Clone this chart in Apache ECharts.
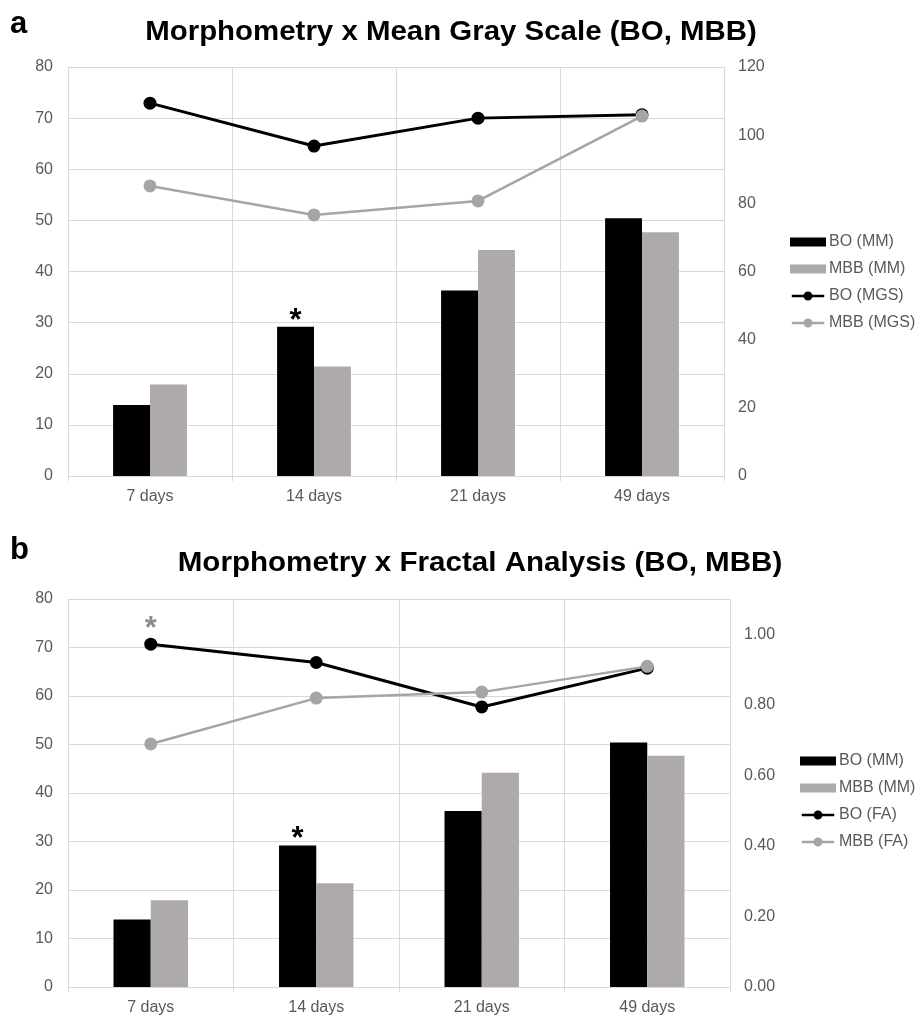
<!DOCTYPE html>
<html>
<head>
<meta charset="utf-8">
<script src="https://cdn.jsdelivr.net/npm/echarts@6/dist/echarts.min.js"></script>
<style>
  html, body { margin: 0; padding: 0; background: #fff; }
  #chartA { width: 918px; height: 510px; }
  #chartB { width: 918px; height: 506px; }
</style>
</head>
<body>
<div id="chartA"></div>
<div id="chartB"></div>
<script>
// Time points
const categories = ['7 days', '14 days', '21 days', '49 days'];

// Morphometry (MM), left axis
const boMM  = [13.9, 29.2, 36.3, 50.4];
const mbbMM = [17.9, 21.4, 44.2, 47.7];

// Mean gray scale (MGS), right axis of panel a
const boMGS  = [109.4, 96.8, 105.0, 106.0];
const mbbMGS = [85.1, 76.6, 80.7, 105.6];

// Fractal analysis (FA), right axis of panel b
const boFA  = [0.972, 0.920, 0.794, 0.904];
const mbbFA = [0.689, 0.819, 0.836, 0.909];

// Significance markers (index of the time point)
const boMMStar = [1];
const boFAStar = [0];

const FONT = 'Liberation Sans, Arial, sans-serif';
const TICK_COLOR = '#595959';
const GRID_COLOR = '#d9d9d9';
const BLACK = '#000000';
const GRAY_BAR = '#aeaaaa';
const GRAY_LINE = '#a5a5a5';

// Legend icon for the line series: a stroke with a round marker in the middle
const LINE_ICON = 'path://M0,3.6L36,3.6L36,6.4L0,6.4Z M23,5A5,5,0,1,1,13,5A5,5,0,1,1,23,5Z';

function starred(values, idx, color, size, dist) {
  return values.map((v, i) => idx.includes(i)
    ? { value: v, label: { show: true, position: 'top', distance: dist, formatter: '*',
        color: color, fontSize: size, fontWeight: 'bold', fontFamily: FONT } }
    : v);
}

function buildOption(cfg) {
  return {
    animation: false,
    textStyle: { fontFamily: FONT },
    graphic: [
      { type: 'text', x: 10, y: cfg.letterY, style: { text: cfg.letter, font: 'bold 31px ' + FONT, fill: '#000', verticalAlign: 'middle' } },
      { type: 'text', x: cfg.titleX, y: cfg.titleY, scaleX: cfg.titleScale, originX: 0,
        style: { text: cfg.title, font: 'bold 27px ' + FONT, fill: '#000', align: 'center', verticalAlign: 'middle' } }
    ],
    legend: {
      orient: 'vertical',
      left: cfg.legendLeft,
      top: cfg.legendTop,
      itemWidth: 36,
      itemHeight: 9,
      itemGap: 11,
      textStyle: { color: TICK_COLOR, fontSize: 16, fontFamily: FONT, padding: [0, 0, 0, -2] },
      data: [
        { name: cfg.names[0], icon: 'rect' },
        { name: cfg.names[1], icon: 'rect' },
        { name: cfg.names[2], icon: LINE_ICON, itemHeight: 10 },
        { name: cfg.names[3], icon: LINE_ICON, itemHeight: 10 }
      ]
    },
    grid: { left: 68, right: cfg.gridRight, top: cfg.gridTop, bottom: cfg.gridBottom, containLabel: false },
    xAxis: {
      type: 'category',
      data: categories,
      boundaryGap: true,
      axisLine: { show: true, lineStyle: { color: GRID_COLOR, width: 1 } },
      axisTick: { show: true, length: 5, lineStyle: { color: GRID_COLOR } },
      axisLabel: { color: TICK_COLOR, fontSize: 16, margin: 13, fontFamily: FONT },
      splitLine: { show: true, lineStyle: { color: GRID_COLOR, width: 1 } }
    },
    yAxis: [
      {
        type: 'value', min: 0, max: 80, interval: 10,
        axisLine: { show: false }, axisTick: { show: false },
        axisLabel: { color: TICK_COLOR, fontSize: 16, margin: 15, fontFamily: FONT },
        splitLine: { show: true, lineStyle: { color: GRID_COLOR, width: 1 } }
      },
      {
        type: 'value', min: 0, max: cfg.rightMax, interval: cfg.rightInterval,
        axisLine: { show: false }, axisTick: { show: false },
        axisLabel: { color: TICK_COLOR, fontSize: 16, margin: 14, fontFamily: FONT,
          showMaxLabel: cfg.showMaxLabel, formatter: cfg.rightFormatter },
        splitLine: { show: false }
      }
    ],
    series: [
      { name: cfg.names[0], type: 'bar', yAxisIndex: 0, barGap: '0%', barCategoryGap: '55%',
        itemStyle: { color: BLACK }, data: starred(boMM, boMMStar, '#000', 31, -10) },
      { name: cfg.names[1], type: 'bar', yAxisIndex: 0, barGap: '0%', barCategoryGap: '55%',
        itemStyle: { color: GRAY_BAR }, data: mbbMM },
      { name: cfg.names[2], type: 'line', yAxisIndex: 1, symbol: 'circle', symbolSize: 13,
        lineStyle: { color: BLACK, width: 3 }, itemStyle: { color: BLACK },
        data: cfg.boLineStar ? starred(cfg.boLine, cfg.boLineStar, '#8c8c8c', 31, -7) : cfg.boLine },
      { name: cfg.names[3], type: 'line', yAxisIndex: 1, symbol: 'circle', symbolSize: 13,
        lineStyle: { color: GRAY_LINE, width: 2.5 }, itemStyle: { color: GRAY_LINE },
        data: cfg.mbbLine }
    ]
  };
}

const chartA = echarts.init(document.getElementById('chartA'), null, { renderer: 'canvas' });
chartA.setOption(buildOption({
  letter: 'a', letterY: 24,
  title: 'Morphometry x Mean Gray Scale (BO, MBB)', titleX: 451, titleY: 33, titleScale: 1.09,
  legendLeft: 785, legendTop: 229,
  gridRight: 194, gridTop: 67, gridBottom: 34,
  rightMax: 120, rightInterval: 20, showMaxLabel: true,
  rightFormatter: v => String(v),
  names: ['BO (MM)', 'MBB (MM)', 'BO (MGS)', 'MBB (MGS)'],
  boLine: boMGS, mbbLine: mbbMGS
}));

const chartB = echarts.init(document.getElementById('chartB'), null, { renderer: 'canvas' });
chartB.setOption(buildOption({
  letter: 'b', letterY: 40,
  title: 'Morphometry x Fractal Analysis (BO, MBB)', titleX: 480, titleY: 54, titleScale: 1.095,
  legendLeft: 795, legendTop: 238,
  gridRight: 188, gridTop: 89, gridBottom: 28,
  rightMax: 1.1, rightInterval: 0.2, showMaxLabel: false,
  rightFormatter: v => v.toFixed(2),
  names: ['BO (MM)', 'MBB (MM)', 'BO (FA)', 'MBB (FA)'],
  boLine: boFA, mbbLine: mbbFA, boLineStar: boFAStar
}));
</script>
</body>
</html>
